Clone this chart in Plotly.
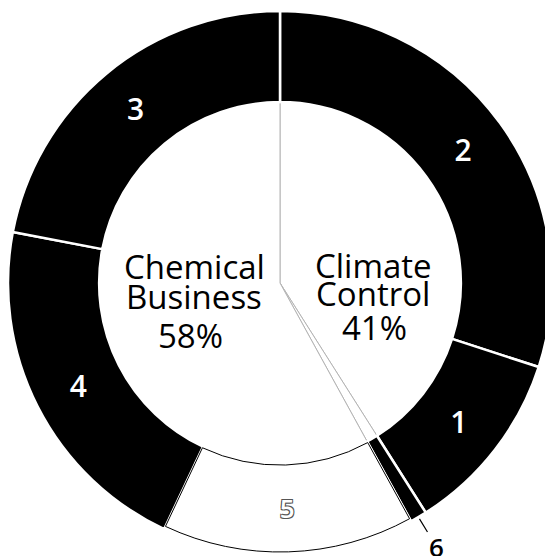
import math
import plotly.graph_objects as go

# ---- data ----
segment_labels = ["2", "1", "6", "5", "4", "3"]
segment_values = [30, 11, 1, 15, 21, 22]
segment_group = ["Climate Control", "Climate Control", "Other", "Chemical Business", "Chemical Business", "Chemical Business"]
group_names = ["Climate Control", "Other", "Chemical Business"]
chem_lines = ["Chemical", "Business", "58%"]
clim_lines = ["Climate", "Control", "41%"]

# page body has an 8px margin: figure is sized/positioned to compensate
OFF = 8
W, H = 553 - OFF, 556 - OFF
CX, CY, R = 280 - OFF, 283 - OFF, 272   # pie centre / radius in figure px
HOLE = 0.665
R_IN = R * HOLE

def dom(r):
    return dict(x=[max(0, (CX - r) / W), min(1, (CX + r) / W)],
                y=[max(0, (H - CY - r) / H), min(1, (H - CY + r) / H)])

group_values = [sum(v for v, g in zip(segment_values, segment_group) if g == name) for name in group_names]

fig = go.Figure()

# inner division (faint lines)
fig.add_trace(go.Pie(
    values=group_values, labels=group_names, sort=False, direction="clockwise",
    domain=dom(R_IN + 4), marker=dict(colors=["white"] * 3, line=dict(color="#b4b4b4", width=1)),
    textinfo="none", hoverinfo="skip", showlegend=False,
))

fill = ["white" if l == "5" else "black" for l in segment_labels]
base_text = [l if l not in ("5", "6") else "" for l in segment_labels]
fig.add_trace(go.Pie(
    values=segment_values, labels=segment_labels, sort=False, direction="clockwise",
    hole=HOLE, domain=dom(R),
    marker=dict(colors=fill, line=dict(color="white", width=2.5)),
    text=base_text, textinfo="text", textposition="inside",
    insidetextorientation="horizontal",
    textfont=dict(family="Open Sans", size=30, color="white", weight=600),
    hoverinfo="skip", showlegend=False,
))

# outline of the light segment 5
ov_fill = ["white" if l == "5" else "rgba(0,0,0,0)" for l in segment_labels]
ov_line = ["black" if l == "5" else "rgba(0,0,0,0)" for l in segment_labels]
ov_w = [1 if l == "5" else 0 for l in segment_labels]
ov_text = [l if l == "5" else "" for l in segment_labels]
fig.add_trace(go.Pie(
    values=segment_values, labels=segment_labels, sort=False, direction="clockwise",
    hole=HOLE + 0.012, domain=dom(R - 3),
    marker=dict(colors=ov_fill, line=dict(color=ov_line, width=ov_w)),
    text=ov_text, textinfo="text", textposition="inside",
    insidetextorientation="horizontal",
    textfont=dict(family="Open Sans", size=26, color="white", weight=600,
                  shadow="1px 1px 0 #555, -1px -1px 0 #555, 1px -1px 0 #555, -1px 1px 0 #555"),
    hoverinfo="skip", showlegend=False,
))

# label "6" outside with leader line, at the mid-angle of its slice
i6 = segment_labels.index("6")
start = sum(segment_values[:i6]) / sum(segment_values)
mid = (start + segment_values[i6] / sum(segment_values) / 2) * 2 * math.pi
tipx = CX + (R + 2) * math.sin(mid)
tipy = CY - (R + 2) * math.cos(mid)

def txt(s, x, y, size=33):
    return dict(x=(x - OFF) / W, y=1 - (y - OFF) / H, xref="paper", yref="paper", text=s,
                showarrow=False, xanchor="center", yanchor="middle",
                font=dict(family="Open Sans", size=size, color="black"))

annotations = [
    dict(x=tipx / W, y=1 - tipy / H, xref="paper", yref="paper", text="6",
         showarrow=True, arrowhead=0, arrowwidth=1.2, arrowcolor="black",
         ax=17, ay=28, font=dict(family="Open Sans", size=26, color="black", weight=600)),
    txt(chem_lines[0], 194, 266),
    txt(chem_lines[1], 194, 296),
    txt(chem_lines[2], 190, 335),
    txt(clim_lines[0], 373, 265),
    txt(clim_lines[1], 373, 293),
    txt(clim_lines[2], 374, 327),
]

fig.update_layout(
    width=W, height=H, margin=dict(l=0, r=0, t=0, b=0),
    paper_bgcolor="white", plot_bgcolor="white",
    annotations=annotations, showlegend=False,
)
fig.write_html("out.html")
